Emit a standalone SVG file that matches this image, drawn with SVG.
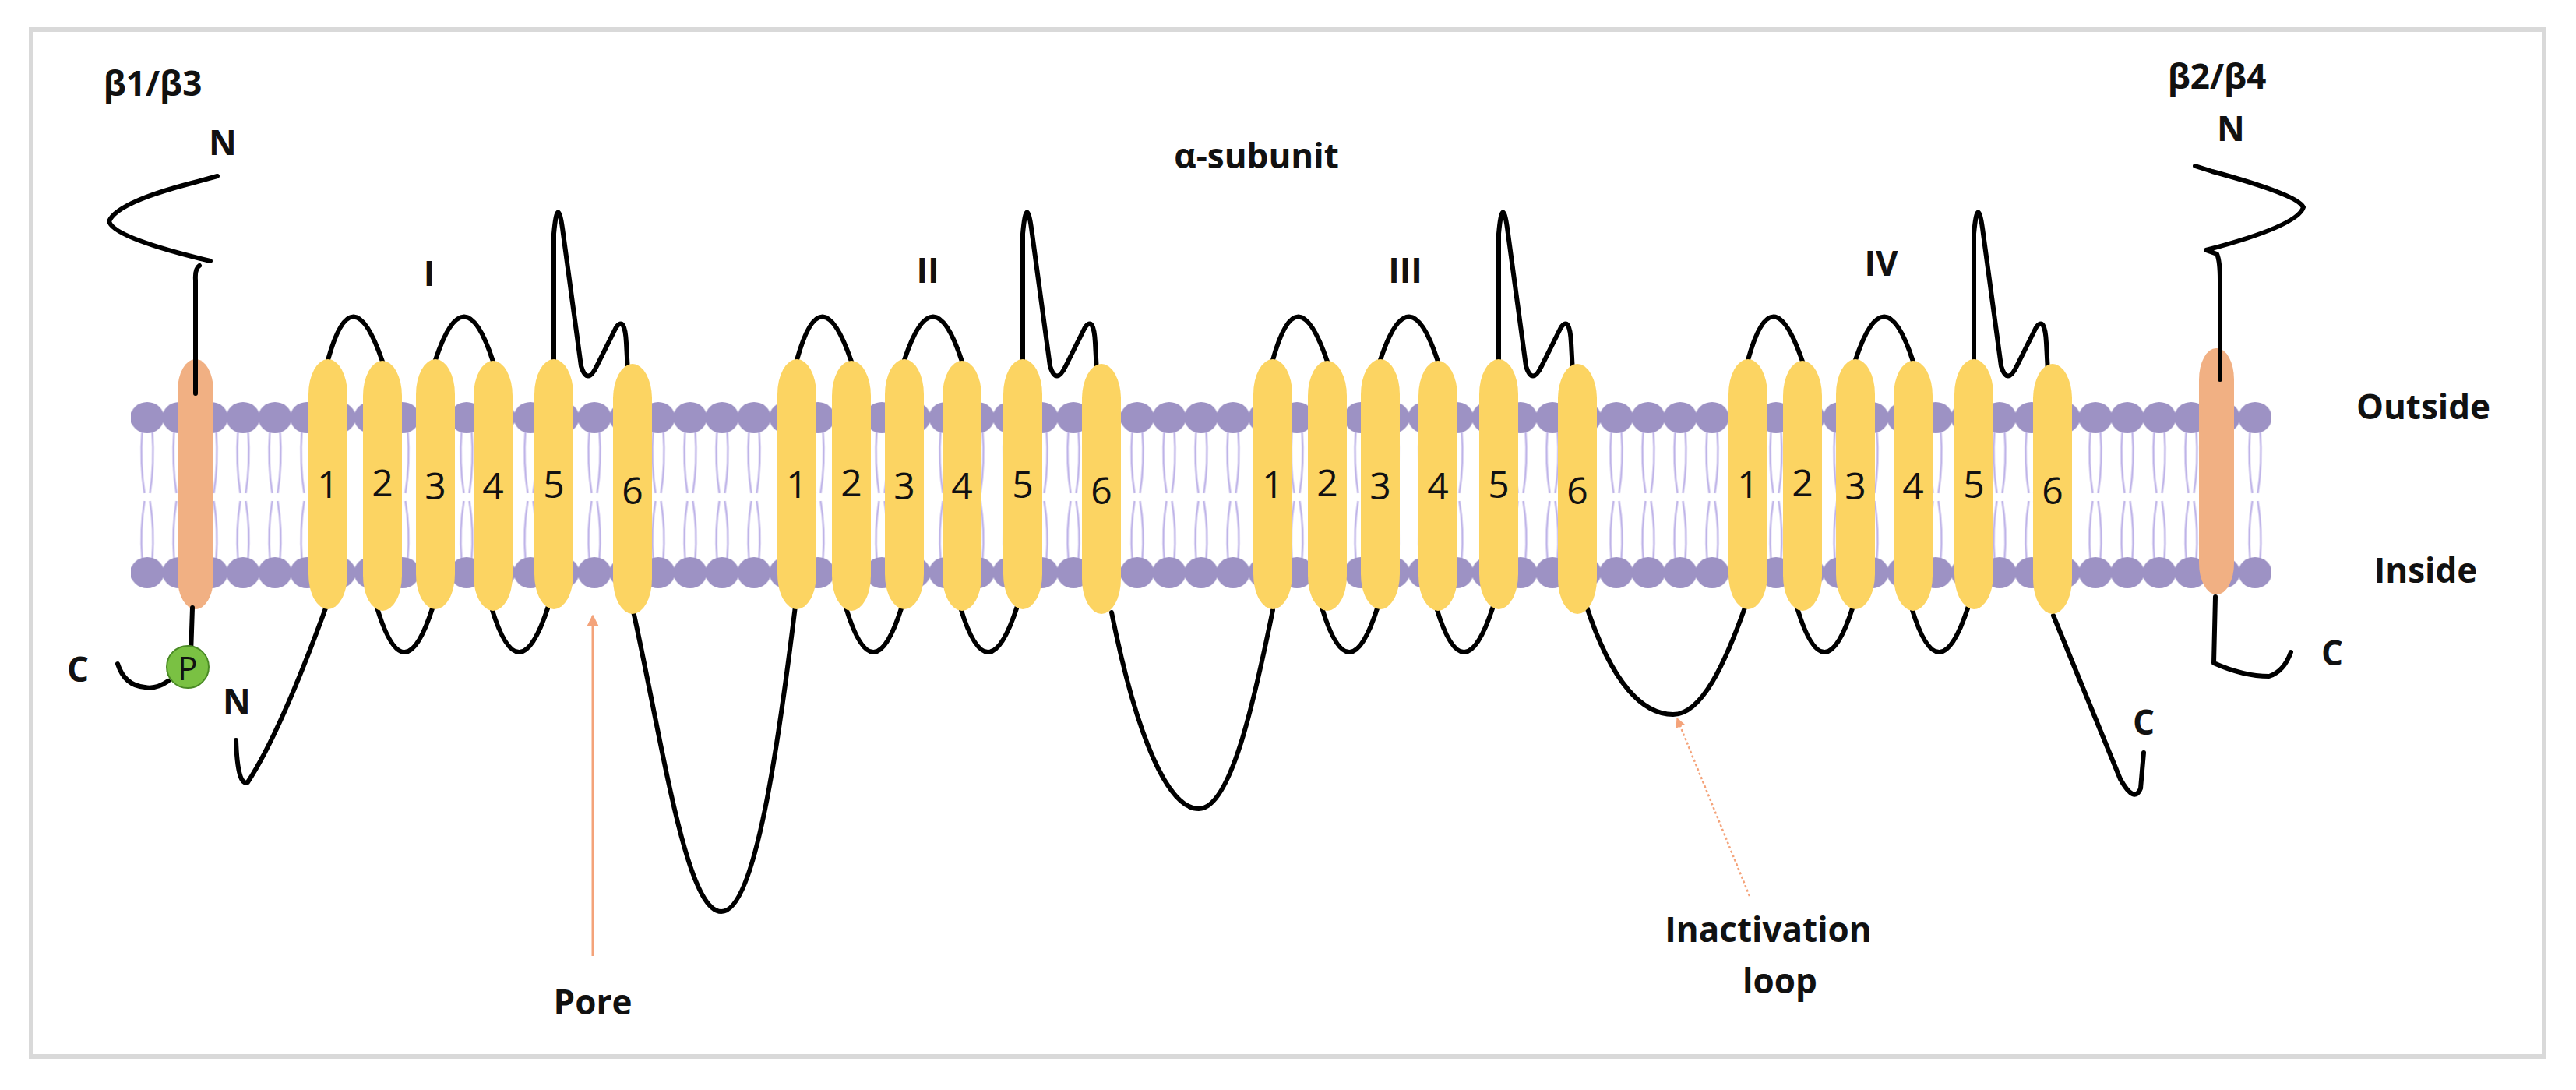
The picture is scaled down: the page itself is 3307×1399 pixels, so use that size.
<svg xmlns="http://www.w3.org/2000/svg" width="3307" height="1399" viewBox="0 0 3307 1399">
<style>
.lbl{font-family:"Open Sans","Liberation Sans",sans-serif;font-weight:bold;font-size:44px;fill:#111;text-anchor:middle;dominant-baseline:central}
.num{font-family:"Open Sans","Liberation Sans",sans-serif;font-size:48px;fill:#111;text-anchor:middle;dominant-baseline:central}
.chain{fill:none;stroke:#000;stroke-width:6;stroke-linecap:round;stroke-linejoin:round}
.helix{fill:#fcd462}
.beta{fill:#f1b083}
</style>
<defs>
<pattern id="lip" patternUnits="userSpaceOnUse" x="168.5" y="515" width="41" height="245">
<g fill="none" stroke="#bfb4e8" stroke-width="2.5">
<path d="M14,38 Q11,80 17,118 M27,38 Q30,80 24,118 M14,202 Q11,165 17,128 M27,202 Q30,165 24,128"/>
</g>
<ellipse cx="20.5" cy="21" rx="21.5" ry="20" fill="#9d92c4"/>
<ellipse cx="20.5" cy="220" rx="21.5" ry="20" fill="#9d92c4"/>
</pattern>
<marker id="ah" viewBox="0 0 10 10" refX="9" refY="5" markerWidth="5" markerHeight="5" orient="auto"><path d="M0,0 L10,5 L0,10z" fill="#f4a37a"/></marker>
<g id="dom">
<path class="chain" d="M0,462 Q31,350 70,464 M138,462 Q175,350 212,464 M290,462 L290,300 Q295,245 302,300 L325,470 Q333,495 345,470 L370,420 Q381,405 383,440 L385,478 M63,780 Q98,895 135,778 M210,780 Q245,895 283,778"/>
<rect class="helix" x="-25" y="461" width="50" height="321" rx="25" ry="45"/>
<rect class="helix" x="45" y="463" width="50" height="321" rx="25" ry="45"/>
<rect class="helix" x="113" y="461" width="50" height="321" rx="25" ry="45"/>
<rect class="helix" x="187" y="463" width="50" height="321" rx="25" ry="45"/>
<rect class="helix" x="265" y="461" width="50" height="321" rx="25" ry="45"/>
<rect class="helix" x="366" y="467" width="50" height="321" rx="25" ry="45"/>
<text class="num" x="0" y="620">1</text><text class="num" x="70" y="618">2</text><text class="num" x="138" y="622">3</text><text class="num" x="212" y="622">4</text><text class="num" x="290" y="620">5</text><text class="num" x="391" y="628">6</text>
</g>
</defs>
<rect x="40" y="38" width="3226" height="1318" fill="#fff" stroke="#d9d9d9" stroke-width="6"/>
<rect x="168" y="515" width="2747" height="245" fill="url(#lip)"/>
<g id="connectors">
<path class="chain" d="M303,950 Q305,1010 318,1004 Q360,940 419,778"/>
<path class="chain" d="M812,780 C850,950 880,1170 926,1170 C970,1170 1000,950 1021,778"/>
<path class="chain" d="M1427,786 C1460,950 1500,1038 1539,1038 C1580,1038 1610,900 1634,783"/>
<path class="chain" d="M2036,776 C2070,880 2110,917 2148,917 C2185,917 2215,850 2240,780"/>
<path class="chain" d="M2636,790 L2722,1000 Q2740,1032 2748,1012 L2752,966"/>
<line x1="761" y1="1227" x2="761" y2="790" stroke="#f4a37a" stroke-width="3" marker-end="url(#ah)"/>
<line x1="2246" y1="1150" x2="2153" y2="922" stroke="#f4a37a" stroke-width="2.5" stroke-dasharray="3,3" marker-end="url(#ah)"/>
</g>
<g id="domainI"><use href="#dom" x="421"/><text class="lbl" x="551" y="350">I</text></g>
<g id="domainII"><use href="#dom" x="1023"/><text class="lbl" x="1191" y="346">II</text></g>
<g id="domainIII"><use href="#dom" x="1634"/><text class="lbl" x="1804" y="346">III</text></g>
<g id="domainIV"><use href="#dom" x="2244"/><text class="lbl" x="2415" y="337">IV</text></g>
<g id="beta1">
<rect class="beta" x="228" y="461" width="46" height="321" rx="23" ry="40"/>
<path class="chain" d="M279,226 L246,235 Q150,260 140,284 Q145,305 270,335 M256,341 Q250,345 251,360 L251,505"/>
<path class="chain" d="M247,780 L245,840 M216,874 Q200,885 186,882 Q160,880 151,852"/>
<circle cx="241" cy="856" r="27" fill="#7ac143" stroke="#4a8a25" stroke-width="2"/>
<text class="num" x="241" y="856" style="font-size:42px">P</text>
<text class="lbl" x="196" y="106">β1/β3</text>
<text class="lbl" x="286" y="182">N</text>
<text class="lbl" x="100" y="858">C</text>
<text class="lbl" x="304" y="899">N</text>
</g>
<g id="beta2">
<rect class="beta" x="2823" y="447" width="45" height="316" rx="22" ry="40"/>
<path class="chain" d="M2818,213 L2840,220 Q2950,250 2957,266 Q2950,290 2832,321 L2846,326 Q2850,335 2850,360 L2850,487"/>
<path class="chain" d="M2844,766 L2842,851 Q2880,868 2913,868 Q2932,862 2941,837"/>
<text class="lbl" x="2846" y="97">β2/β4</text>
<text class="lbl" x="2864" y="164">N</text>
<text class="lbl" x="2994" y="837">C</text>
</g>
<g id="labels">
<text class="lbl" x="1613" y="199">α-subunit</text>
<text class="lbl" x="3111" y="521">Outside</text>
<text class="lbl" x="3114" y="731">Inside</text>
<text class="lbl" x="2752" y="926">C</text>
<text class="lbl" x="761" y="1285">Pore</text>
<text class="lbl" x="2270" y="1192">Inactivation</text>
<text class="lbl" x="2285" y="1258">loop</text>
</g>
</svg>
